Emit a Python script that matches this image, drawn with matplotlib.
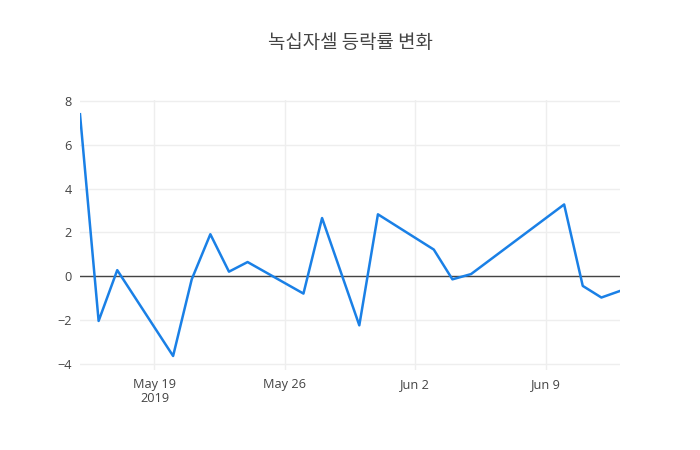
import matplotlib
matplotlib.use("Agg")
import matplotlib.pyplot as plt
import datetime as dt

# 일별 등락률 (%)
dates = ["2019-05-15", "2019-05-16", "2019-05-17", "2019-05-20", "2019-05-21",
         "2019-05-22", "2019-05-23", "2019-05-24", "2019-05-27", "2019-05-28",
         "2019-05-30", "2019-05-31", "2019-06-03", "2019-06-04", "2019-06-05",
         "2019-06-10", "2019-06-11", "2019-06-12", "2019-06-13"]
changes = [7.4, -2.04, 0.28, -3.64, -0.14,
           1.92, 0.21, 0.65, -0.79, 2.66,
           -2.24, 2.83, 1.22, -0.14, 0.1,
           3.28, -0.44, -0.97, -0.67]
yticks = [-4, -2, 0, 2, 4, 6, 8]
xtick_dates = ["2019-05-19", "2019-05-26", "2019-06-02", "2019-06-09"]
xtick_labels = ["May 19\n2019", "May 26", "Jun 2", "Jun 9"]

plt.rcParams['font.family'] = ['Open Sans', 'Noto Sans CJK KR', 'DejaVu Sans']

x = [dt.datetime.strptime(d, "%Y-%m-%d") for d in dates]
xt = [dt.datetime.strptime(d, "%Y-%m-%d") for d in xtick_dates]

fig = plt.figure(figsize=(7, 4.5), dpi=100)
ax = fig.add_axes([80 / 700, 80 / 450, 540 / 700, 270 / 450])

ax.plot(x, changes, color='#1a80e6', linewidth=1.8, zorder=3)
ax.axhline(0, color='#444444', linewidth=1, zorder=2)

ax.set_xlim(x[0], x[-1])
ax.set_ylim(-4.28, 8.05)
ax.set_yticks(yticks)
ax.set_yticklabels([f"{v}".replace('-', '\u2212') for v in yticks])
ax.set_xticks(xt)
ax.set_xticklabels(xtick_labels, linespacing=1.05)

ax.grid(True, color='#eeeeee', linewidth=1, zorder=0)
for s in ax.spines.values():
    s.set_visible(False)
ax.tick_params(length=0, labelsize=9.2, colors='#444444', pad=6)

fig.suptitle("녹십자셀 등락률 변화", x=0.5, y=1 - 43 / 450, va='center',
             fontsize=13.6, color='#444444',
             family=['Noto Sans CJK KR', 'DejaVu Sans'])

fig.savefig("out.png", dpi=100, facecolor='white')
